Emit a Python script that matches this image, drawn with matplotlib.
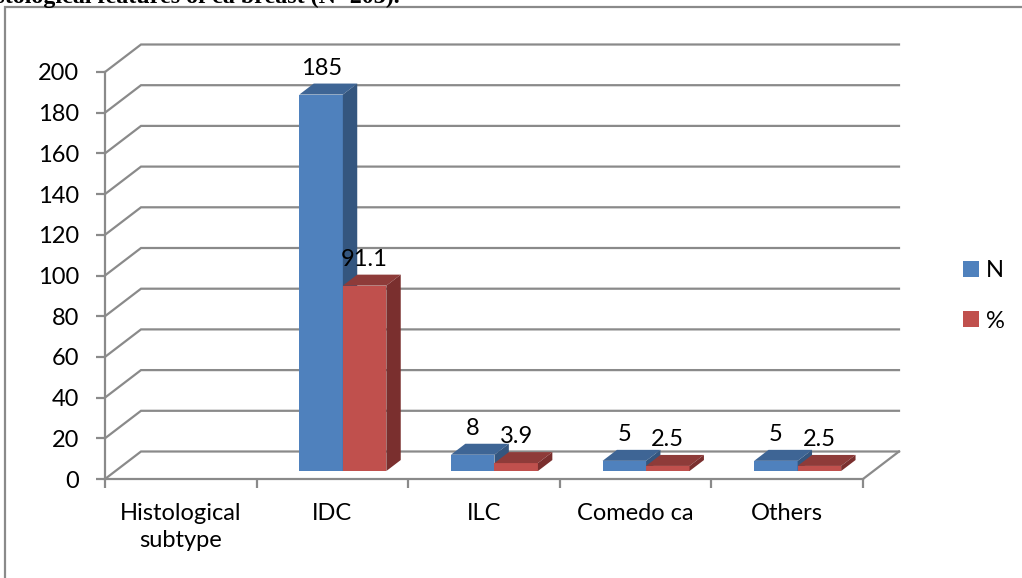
import numpy as np
import matplotlib
matplotlib.use("Agg")
import matplotlib.pyplot as plt
from matplotlib.patches import Polygon, Patch, Rectangle
from matplotlib.lines import Line2D

# ---- data -------------------------------------------------------------
categories = ["Histological\nsubtype", "IDC", "ILC", "Comedo ca", "Others"]
counts = [np.nan, 185, 8, 5, 5]          # N
percents = [np.nan, 91.1, 3.9, 2.5, 2.5]  # %
series_names = ["N", "%"]
y_ticks = list(range(0, 201, 20))

# ---- styling ----------------------------------------------------------
FONT = "Lato"
FS = 17
GRID = "#8a8a8a"
FRONT = ["#4f81bd", "#c0504d"]
TOP = ["#3e6595", "#8e3b39"]
SIDE = ["#34567f", "#7a2f2e"]

W, H, DPI = 1022, 578, 100
fig = plt.figure(figsize=(W / DPI, H / DPI), dpi=DPI)

# front plane of the 3D box: x 105..863 px, value 0..200 -> y 479..72 px
x0_px, x1_px, y0_px, y1_px = 105, 863, 479, 72
ax = fig.add_axes([x0_px / W, 1 - y0_px / H, (x1_px - x0_px) / W, (y0_px - y1_px) / H])
n_cat = len(categories)
ax.set_xlim(0, n_cat)
ax.set_ylim(0, 200)

px_per_x = (x1_px - x0_px) / n_cat
px_per_y = (y0_px - y1_px) / 200.0
# oblique depth vector of the box (full depth)
DX = 36 / px_per_x
DY = 27.5 / px_per_y

# ---- walls / gridlines -----------------------------------------------
glw = 1.6
for v in y_ticks:
    ax.add_line(Line2D([0, DX, n_cat + DX], [v, v + DY, v + DY],
                       color=GRID, lw=glw, clip_on=False, zorder=1,
                       solid_joinstyle="miter"))
# right edge of the floor
ax.add_line(Line2D([n_cat, n_cat + DX], [0, DY], color=GRID, lw=glw,
                   clip_on=False, zorder=1))

# ---- axes --------------------------------------------------------------
for s in ["top", "right"]:
    ax.spines[s].set_visible(False)
for s in ["left", "bottom"]:
    ax.spines[s].set_color(GRID)
    ax.spines[s].set_linewidth(glw)
ax.set_facecolor("none")
ax.set_yticks(y_ticks)
ax.set_yticklabels([str(t) for t in y_ticks], fontfamily=FONT, fontsize=FS)
ax.tick_params(axis="y", direction="out", length=6.5, width=glw, color=GRID, pad=12)
ax.set_xticks(np.arange(0, n_cat + 1))
ax.set_xticklabels([])
ax.tick_params(axis="x", which="major", direction="out", length=6.5, width=glw, color=GRID)
ax.set_xticks(np.arange(n_cat) + 0.5, minor=True)
ax.set_xticklabels(categories, minor=True, fontfamily=FONT, fontsize=FS, linespacing=1.32)
ax.tick_params(axis="x", which="minor", length=0, pad=17.5)

# ---- 3D bars -------------------------------------------------------------
bar_w = 43.5 / px_per_x
d_front, d_depth = 0.29, 0.40
sx, sy = d_front * DX, d_front * DY
bdx, bdy = d_depth * DX, d_depth * DY

for j, vals in enumerate([counts, percents]):
    for i, v in enumerate(vals):
        if np.isnan(v):
            continue
        xl = i + 0.5 - bar_w + j * bar_w + sx
        ax.bar(xl, v, width=bar_w, bottom=sy, align="edge", color=FRONT[j],
               linewidth=0, zorder=3 + i * 3 + j, clip_on=False)
        top = [(xl, sy + v), (xl + bar_w, sy + v),
               (xl + bar_w + bdx, sy + v + bdy), (xl + bdx, sy + v + bdy)]
        side = [(xl + bar_w, sy), (xl + bar_w, sy + v),
                (xl + bar_w + bdx, sy + v + bdy), (xl + bar_w + bdx, sy + bdy)]
        ax.add_patch(Polygon(top, closed=True, facecolor=TOP[j], lw=0,
                             zorder=3 + i * 3 + j, clip_on=False))
        ax.add_patch(Polygon(side, closed=True, facecolor=SIDE[j], lw=0,
                             zorder=3 + i * 3 + j, clip_on=False))
        ax.annotate(f"{v:g}", (xl + bar_w / 2, sy + v), xytext=(0, 14.4),
                    textcoords="offset points", ha="center", va="baseline",
                    fontfamily=FONT, fontsize=FS, zorder=20, annotation_clip=False)

# ---- legend ------------------------------------------------------------
handles = [Patch(facecolor=c, edgecolor="none") for c in FRONT]
fig.legend(handles, series_names, loc="upper left",
           bbox_to_anchor=(963 / W, 1 - 260 / H), frameon=False,
           prop={"family": FONT, "size": FS}, handlelength=0.66, handleheight=0.66,
           handletextpad=0.3, labelspacing=1.25, borderpad=0, borderaxespad=0)

# ---- outer chart frame and caption ----------------------------------------
fig.patches.append(Rectangle((5, -20), W + 40, H - 7 + 20, transform=None,
                             fill=False, edgecolor="#8a8a8a", lw=1.6))
fig.text(400 / W, 1 - 3 / H, "Histological features of ca breast (N=203).",
         ha="right", va="baseline", fontfamily="Liberation Serif",
         fontweight="bold", fontsize=17.3)

fig.savefig("out.png", dpi=DPI)
